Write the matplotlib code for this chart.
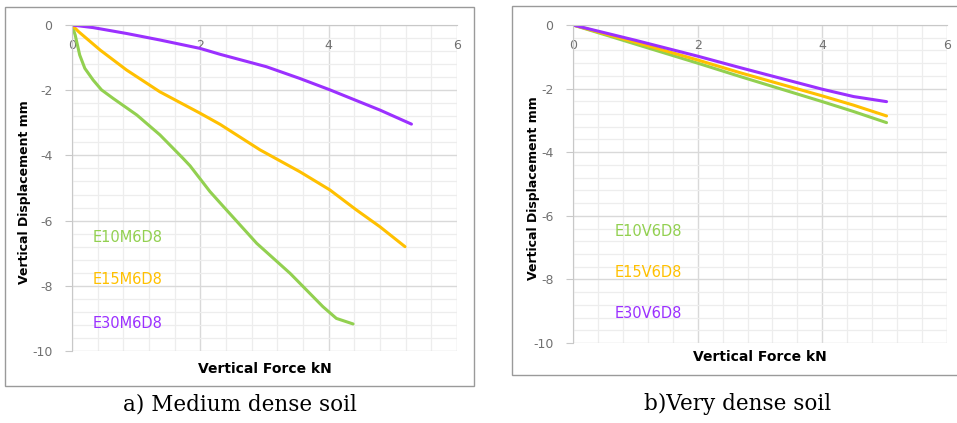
import matplotlib.pyplot as plt
from matplotlib.patches import Rectangle
from matplotlib.ticker import MultipleLocator

plt.rcParams["axes.unicode_minus"] = False

# a) medium dense soil
force_e10m = [0, 0.05, 0.12, 0.20, 0.33, 0.46, 0.64, 1.01, 1.37, 1.73, 1.84, 2.15, 2.36, 2.88, 3.40, 3.91, 4.12, 4.38]
disp_e10m = [0, -0.31, -0.92, -1.33, -1.69, -1.99, -2.25, -2.76, -3.37, -4.09, -4.32, -5.11, -5.57, -6.70, -7.62, -8.64, -9.00, -9.17]
force_e15m = [0, 0.10, 0.44, 0.85, 1.37, 2.00, 2.31, 2.93, 3.55, 4.02, 4.43, 4.80, 5.19]
disp_e15m = [0, -0.20, -0.77, -1.38, -2.05, -2.71, -3.05, -3.83, -4.50, -5.06, -5.67, -6.19, -6.80]
force_e30m = [0, 0.33, 0.85, 1.37, 2.00, 2.31, 3.03, 3.55, 4.02, 4.80, 5.29]
disp_e30m = [0, -0.08, -0.26, -0.46, -0.72, -0.90, -1.28, -1.64, -1.99, -2.61, -3.04]

# b) very dense soil
force_e10v = [0, 1, 2, 2.68, 4, 4.5, 5.03]
disp_e10v = [0, -0.60, -1.20, -1.62, -2.41, -2.72, -3.07]
force_e15v = [0, 1, 2, 2.68, 4, 4.5, 5.03]
disp_e15v = [0, -0.54, -1.10, -1.50, -2.23, -2.52, -2.86]
force_e30v = [0, 1, 2, 2.68, 3.3, 4, 4.5, 5.03]
disp_e30v = [0, -0.48, -0.98, -1.34, -1.66, -2.02, -2.25, -2.41]

names_m = ["E10M6D8", "E15M6D8", "E30M6D8"]
names_v = ["E10V6D8", "E15V6D8", "E30V6D8"]
colors = ["#92D050", "#FFC000", "#9B30FF"]

W, H = 957, 423


def fx(px):
    return px / W


def fy(py):
    return 1 - py / H


fig = plt.figure(figsize=(W / 100, H / 100), dpi=100)


def draw_panel(left, right, top, bottom, frame, series, names, name_x, name_y,
               ylab_x, xlab_y, caption, cap_x):
    # outer chart border
    x0, y0, x1, y1 = frame
    fig.patches.append(Rectangle((fx(x0), fy(y1)), fx(x1) - fx(x0), fy(y0) - fy(y1),
                                 transform=fig.transFigure, fill=False,
                                 edgecolor="#9a9a9a", linewidth=1.0))

    ax = fig.add_axes([fx(left), fy(bottom), fx(right) - fx(left), fy(top) - fy(bottom)])
    for (xs, ys), c in zip(series, colors):
        ax.plot(xs, ys, color=c, linewidth=2.2, solid_capstyle="round",
                solid_joinstyle="round")

    ax.set_xlim(0, 6)
    ax.set_ylim(-10, 0)
    ax.xaxis.set_major_locator(MultipleLocator(2))
    ax.xaxis.set_minor_locator(MultipleLocator(0.4))
    ax.yaxis.set_major_locator(MultipleLocator(2))
    ax.yaxis.set_minor_locator(MultipleLocator(0.4))
    ax.grid(which="major", color="#d9d9d9", linewidth=1.0)
    ax.grid(which="minor", color="#ededed", linewidth=0.9)
    ax.set_axisbelow(True)

    ax.spines["bottom"].set_position(("data", 0))
    ax.spines["bottom"].set_color("#c8c8c8")
    ax.spines["left"].set_color("#c8c8c8")
    ax.spines["top"].set_visible(False)
    ax.spines["right"].set_visible(False)
    ax.tick_params(axis="x", which="both", length=0, pad=10, labelsize=9, labelcolor="#707070")
    ax.tick_params(axis="y", which="major", length=5, pad=9, labelsize=9,
                   labelcolor="#707070", color="#c8c8c8")
    ax.tick_params(axis="y", which="minor", length=0)
    ax.set_xticks([0, 2, 4, 6])
    ax.set_yticks([0, -2, -4, -6, -8, -10])

    for name, c, ny in zip(names, colors, name_y):
        fig.text(fx(name_x), fy(ny), name, color=c, fontsize=10.5, va="center", ha="left")

    fig.text(fx(ylab_x), fy((top + bottom) / 2 + 4), "Vertical Displacement mm",
             rotation=90, fontsize=9, fontweight="bold", ha="center", va="center")
    fig.text(fx((left + right) / 2), fy(xlab_y), "Vertical Force kN",
             fontsize=10, fontweight="bold", ha="center", va="center")
    fig.text(fx(cap_x), fy(404), caption, family="DejaVu Serif", fontsize=15.5,
             ha="center", va="center")
    return ax


draw_panel(72, 457, 25, 351, (5, 7, 474, 386),
           [(force_e10m, disp_e10m), (force_e15m, disp_e15m), (force_e30m, disp_e30m)],
           names_m, 93, [237, 280, 323], 25, 369, "a) Medium dense soil", 240)

draw_panel(573, 947, 25, 343, (512, 6, 958, 375),
           [(force_e10v, disp_e10v), (force_e15v, disp_e15v), (force_e30v, disp_e30v)],
           names_v, 615, [231, 272, 313], 533, 357, "b)Very dense soil", 738)

fig.savefig("out.png", dpi=100)
